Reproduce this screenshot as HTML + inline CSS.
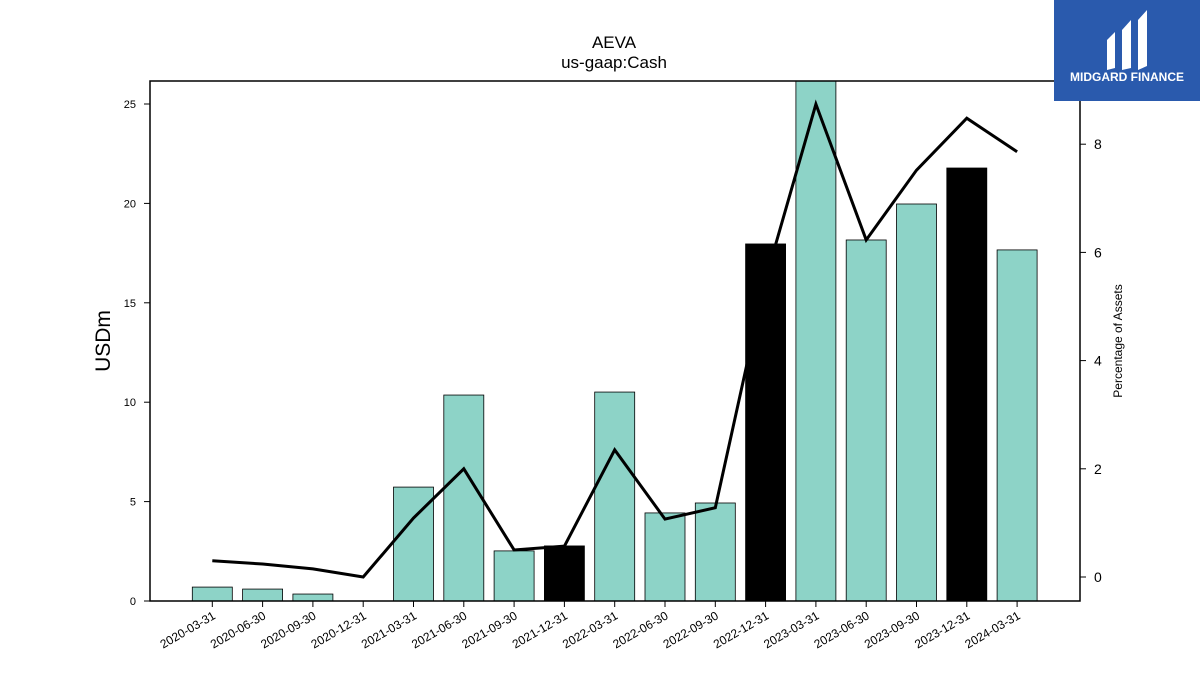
<!DOCTYPE html>
<html><head><meta charset="utf-8"><style>
body{margin:0;background:#fff;font-family:"Liberation Sans","DejaVu Sans",sans-serif;}
</style></head><body>
<svg id="c" width="1200" height="675" xmlns="http://www.w3.org/2000/svg">
<rect width="1200" height="675" fill="#fff"/>
<text x="614" y="48" font-size="17" text-anchor="middle">AEVA</text>
<text x="614" y="68" font-size="17" text-anchor="middle">us-gaap:Cash</text>
<g id="bars"></g><g id="line"></g><g id="axes"></g>
<rect x="150" y="81" width="930" height="520" fill="none" stroke="#000" stroke-width="1.5"/>
<text transform="translate(110,341) rotate(-90)" font-size="21" text-anchor="middle">USDm</text>
<text transform="translate(1122,341) rotate(-90)" font-size="12" text-anchor="middle">Percentage of Assets</text>
<g>
<rect x="1054" y="0" width="146" height="101" fill="#2a5aad"/>
<path d="M1107 40 L1115 32 L1115 68 L1107 70 Z M1122 30 L1131 20 L1131 40 L1122 46 Z M1122 46 L1131 40 L1131 68 L1122 70 Z M1138 20 L1147 10 L1147 66 L1138 70 Z" fill="#fff"/>
<text x="1127" y="81" font-size="12" font-weight="bold" fill="#fff" text-anchor="middle">MIDGARD FINANCE</text>
</g>
</svg>
<script>
const categories=["2020-03-31","2020-06-30","2020-09-30","2020-12-31","2021-03-31","2021-06-30","2021-09-30","2021-12-31","2022-03-31","2022-06-30","2022-09-30","2022-12-31","2023-03-31","2023-06-30","2023-09-30","2023-12-31","2024-03-31"];
const cashValues=[0.70,0.60,0.35,0,5.73,10.36,2.52,2.77,10.51,4.43,4.93,17.96,26.5,18.16,19.97,21.78,17.66];
const pctAssets=[0.30,0.24,0.15,0.0,1.09,2.0,0.50,0.57,2.35,1.07,1.28,5.5,8.74,6.23,7.52,8.48,7.86];
const yTicks=[0,5,10,15,20,25];
const y2Ticks=[0,2,4,6,8];
const ns="http://www.w3.org/2000/svg";
const xPos=i=>212.3+i*50.3;
const yL=v=>601-v*19.88;
const yR=v=>577-v*54.1;
function mk(tag,attrs,parent){const e=document.createElementNS(ns,tag);for(const k in attrs)e.setAttribute(k,attrs[k]);parent.appendChild(e);return e;}
const gb=document.getElementById('bars'),gl=document.getElementById('line'),ga=document.getElementById('axes');
const svg=document.getElementById('c');
const clip=mk('clipPath',{id:'pc'},svg);mk('rect',{x:150,y:81,width:930,height:520},clip);
gb.setAttribute('clip-path','url(#pc)');
cashValues.forEach((v,i)=>{
  const black=categories[i].endsWith('12-31');
  const r=mk('rect',{x:xPos(i)-20,y:yL(v),width:40,height:601-yL(v),fill:black?'#000':'#8dd3c7',stroke:'#000','stroke-width':0.8},gb);
  
  
  const t=mk('line',{x1:xPos(i),x2:xPos(i),y1:601,y2:607,stroke:'#000'},ga);
  const lb=mk('text',{transform:`translate(${xPos(i)+4},${618}) rotate(-30)`,'font-size':12,'text-anchor':'end'},ga);
  lb.textContent=categories[i];
  
  
});
const pts=pctAssets.map((v,i)=>xPos(i)+','+yR(v)).join(' ');
const pl=mk('polyline',{points:pts,fill:'none',stroke:'#000','stroke-width':3},gl);


yTicks.forEach(v=>{
  mk('line',{x1:144,x2:150,y1:yL(v),y2:yL(v),stroke:'#000'},ga);
  const t=mk('text',{x:136,y:yL(v)+4,'font-size':11,'text-anchor':'end'},ga);
  t.textContent=v;
  
  
});
y2Ticks.forEach(v=>{
  mk('line',{x1:1080,x2:1086,y1:yR(v),y2:yR(v),stroke:'#000'},ga);
  const t=mk('text',{x:1094,y:yR(v)+5,'font-size':14},ga);
  t.textContent=v;
  
  
});
</script>
</body></html>
